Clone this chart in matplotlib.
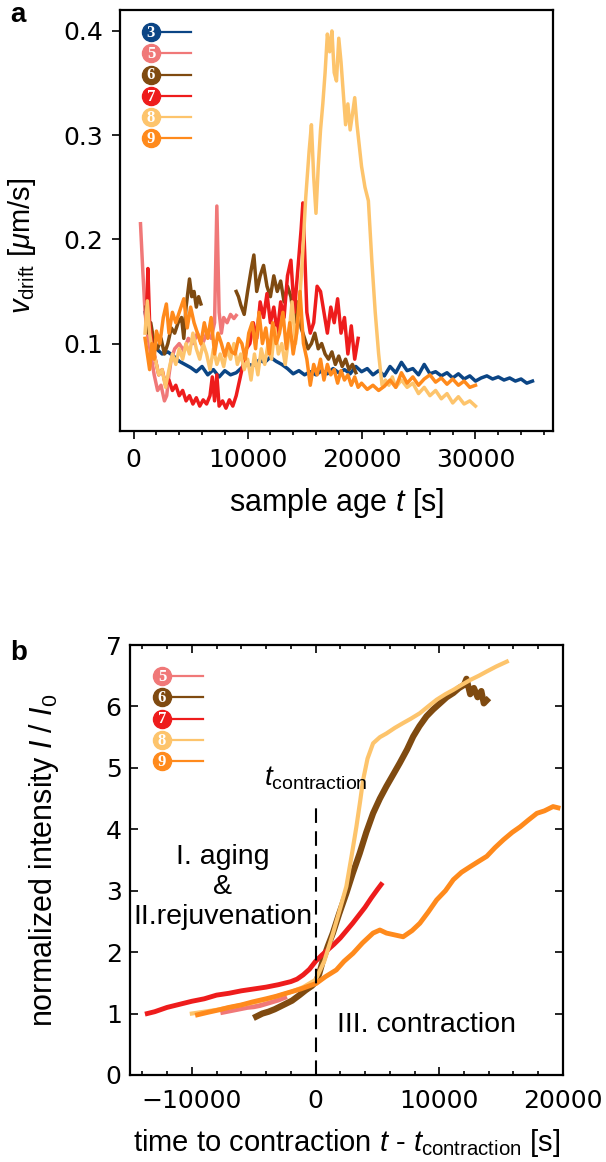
import numpy as np
import matplotlib
matplotlib.use("Agg")
import matplotlib.pyplot as plt

plt.rcParams['mathtext.fontset'] = 'custom'
plt.rcParams['mathtext.rm'] = 'Liberation Sans'
plt.rcParams['mathtext.it'] = 'Liberation Sans:italic'
plt.rcParams['mathtext.bf'] = 'Liberation Sans:bold'

# colours per sample
colors = {3: '#0b4585', 5: '#f07878', 6: '#7f4a10', 7: '#ee1c1c', 8: '#fdc46c', 9: '#ff8a1c'}

# ---- panel a: drift velocity vs sample age ----
a3_t = list(range(1000, 35001, 500))
a3_v = [0.13, 0.105, 0.095, 0.09, 0.092, 0.088, 0.083, 0.08, 0.077, 0.073, 0.078, 0.07, 0.075, 0.068,
        0.074, 0.07, 0.072, 0.077, 0.08, 0.079, 0.084, 0.082, 0.087, 0.083, 0.08, 0.076, 0.071, 0.074,
        0.07, 0.073, 0.07, 0.074, 0.071, 0.076, 0.072, 0.075, 0.071, 0.078, 0.073, 0.076, 0.07, 0.074,
        0.069, 0.078, 0.072, 0.082, 0.074, 0.076, 0.07, 0.08, 0.071, 0.073, 0.069, 0.072, 0.067, 0.071,
        0.066, 0.069, 0.064, 0.067, 0.069, 0.066, 0.068, 0.065, 0.067, 0.064, 0.066, 0.062, 0.064]

a5_t = [600, 800, 1000, 1200, 1500, 1800, 2100, 2400, 2700, 2900, 3100, 3300, 3600, 4000, 4400, 4800,
        5200, 5600, 6000, 6400, 6800, 7100, 7300, 7500, 7700, 7900, 8200, 8500, 8800, 9000]
a5_v = [0.215, 0.17, 0.13, 0.11, 0.09, 0.07, 0.055, 0.06, 0.045, 0.05, 0.07, 0.085, 0.095, 0.10, 0.093,
        0.105, 0.10, 0.11, 0.098, 0.11, 0.105, 0.12, 0.232, 0.13, 0.11, 0.125, 0.12, 0.128, 0.124, 0.127]

a6_t = [1100, 1300, 1500, 1800, 2100, 2400, 2700, 3000, 3300, 3600, 3900, 4200, 4400, 4600, 4900, 5100,
        5300, 5500, 5700, 5900, 7500,
        9000, 9200, 9400, 9700, 10000, 10300, 10550, 10800, 11100, 11400, 11700, 12000, 12300, 12600,
        12900, 13200, 13500, 13800, 14100, 14400, 14700, 15000, 15300, 15600, 15900, 16200, 16500,
        16800, 17100, 17400, 17700, 18000, 18300, 18600, 18900, 19200, 19500]
a6_v = [0.135, 0.11, 0.12, 0.10, 0.095, 0.105, 0.09, 0.1, 0.115, 0.11, 0.12, 0.125, 0.105, 0.135, 0.162,
        0.145, 0.15, 0.135, 0.145, 0.138, np.nan,
        0.15, 0.145, 0.137, 0.128, 0.15, 0.17, 0.185, 0.15, 0.165, 0.175, 0.155, 0.145, 0.165, 0.15,
        0.16, 0.14, 0.155, 0.145, 0.12, 0.14, 0.115, 0.105, 0.095, 0.1, 0.11, 0.095, 0.1, 0.09, 0.085,
        0.092, 0.08, 0.088, 0.078, 0.085, 0.075, 0.08, 0.072]

a7_t = [1100, 1250, 1400, 1600, 1900, 2200, 2500, 2800, 3100, 3400, 3700, 4000, 4300, 4600, 4900, 5200,
        5500, 5800, 6100, 6400, 6700, 6900, 7100, 7300, 7500, 7800, 8100, 8400, 8700, 9000, 9300, 9600,
        9900, 10200, 10500, 10800, 11100, 11400, 11700, 12000, 12300, 12600, 12900, 13200, 13500, 13800,
        14100, 14400, 14700, 14850, 15000, 15200, 15500, 15800, 16100, 16400, 16700, 17000, 17300,
        17600, 17900, 18200, 18500, 18800, 19100, 19400, 19700]
a7_v = [0.12, 0.172, 0.12, 0.10, 0.085, 0.07, 0.075, 0.06, 0.065, 0.055, 0.06, 0.05, 0.055, 0.045, 0.05,
        0.042, 0.048, 0.04, 0.046, 0.042, 0.05, 0.068, 0.045, 0.07, 0.04, 0.045, 0.038, 0.046, 0.04, 0.05,
        0.065, 0.08, 0.095, 0.1, 0.12, 0.105, 0.14, 0.125, 0.148, 0.12, 0.135, 0.11, 0.14, 0.125, 0.165,
        0.18, 0.13, 0.17, 0.21, 0.235, 0.19, 0.13, 0.11, 0.12, 0.155, 0.15, 0.13, 0.11, 0.135, 0.12,
        0.143, 0.11, 0.125, 0.09, 0.117, 0.085, 0.105]

a8_t = [1000, 1200, 1400, 1600, 1900, 2200, 2500, 2800, 3100, 3400, 3700, 4000, 4300, 4600, 4900, 5200,
        5500, 5800, 6100, 6400, 6700, 7000, 7300, 7600, 7900, 8200, 8500, 8800, 9100, 9400, 9700, 10000,
        10300, 10600, 10900, 11200, 11500, 11800, 12100, 12400, 12700, 13000, 13300, 13600, 13900,
        14200, 14500, 14800, 15100, 15400, 15600, 15800, 16000, 16200, 16400, 16600, 16800, 17000,
        17200, 17400, 17600, 17800, 18000, 18200, 18400, 18600, 18800, 19000, 19200, 19400, 19600,
        19800, 20000, 20300, 20600, 20900, 21200, 21500, 21800, 22100, 22400, 22700, 23000, 23500,
        24000, 24500, 25000, 25500, 26000, 26500, 27000, 27500, 28000, 28500, 29000, 29500, 30000]
a8_v = [0.11, 0.141, 0.11, 0.095, 0.085, 0.07, 0.075, 0.058, 0.075, 0.09, 0.08, 0.095, 0.085, 0.1, 0.09,
        0.11, 0.095, 0.085, 0.1, 0.09, 0.075, 0.095, 0.08, 0.09, 0.078, 0.095, 0.085, 0.1, 0.08, 0.09,
        0.075, 0.085, 0.065, 0.09, 0.07, 0.095, 0.08, 0.1, 0.085, 0.115, 0.09, 0.1, 0.08, 0.105, 0.14,
        0.1, 0.13, 0.18, 0.24, 0.285, 0.31, 0.26, 0.225, 0.27, 0.305, 0.33, 0.36, 0.397, 0.38, 0.4,
        0.36, 0.352, 0.393, 0.37, 0.34, 0.31, 0.33, 0.305, 0.32, 0.336, 0.31, 0.29, 0.27, 0.25, 0.237,
        0.18, 0.13, 0.09, 0.06, 0.065, 0.06, 0.068, 0.058, 0.065, 0.058, 0.062, 0.052, 0.058, 0.05,
        0.055, 0.047, 0.052, 0.043, 0.049, 0.042, 0.045, 0.04]

a9_t = [1000, 1200, 1400, 1600, 1800, 2000, 2300, 2600, 2870, 3100, 3400, 3700, 4000, 4400, 4700, 5000,
        5300, 5600, 5900, 6200, 6500, 6800, 7100, 7400, 7700, 8000, 8300, 8600, 8900, 9200, 9500, 9800,
        10100, 10400, 10700, 11000, 11300, 11600, 11900, 12200, 12500, 12800, 13100, 13400, 13700,
        14000, 14300, 14600, 14900, 15200, 15500, 15800, 16100, 16400, 16700, 17000, 17300, 17600,
        17900, 18200, 18500, 18800, 19100, 19400, 19700, 20000, 20500, 21000, 21500, 22000, 22500,
        23000, 23500, 24000, 24500, 25000, 25500, 26000, 26500, 27000, 27500, 28000, 28500, 29000,
        29500, 30000]
a9_v = [0.105, 0.09, 0.075, 0.1, 0.085, 0.112, 0.1, 0.125, 0.138, 0.11, 0.13, 0.12, 0.13, 0.143, 0.115,
        0.135, 0.12, 0.11, 0.1, 0.12, 0.105, 0.125, 0.09, 0.11, 0.1, 0.088, 0.1, 0.092, 0.09, 0.105, 0.1,
        0.085, 0.11, 0.12, 0.095, 0.13, 0.1, 0.115, 0.09, 0.12, 0.1, 0.11, 0.13, 0.095, 0.12, 0.09, 0.11,
        0.15, 0.1, 0.085, 0.06, 0.08, 0.07, 0.085, 0.065, 0.08, 0.07, 0.075, 0.062, 0.074, 0.065, 0.07,
        0.06, 0.068, 0.058, 0.062, 0.056, 0.06, 0.055, 0.059, 0.065, 0.058, 0.072, 0.062, 0.068, 0.06,
        0.066, 0.07, 0.063, 0.067, 0.061, 0.066, 0.06, 0.064, 0.058, 0.06]

# ---- panel b: normalized intensity vs time to contraction ----
b5_t = [-7500, -7000, -6500, -6000, -5500, -5000, -4500, -4000, -3500, -3000, -2500]
b5_i = [1.02, 1.04, 1.06, 1.08, 1.1, 1.11, 1.13, 1.16, 1.19, 1.22, 1.26]

b6_t = [-4800, -4300, -3800, -3300, -2900, -2400, -1900, -1300, -800, -300, 50, 300, 600, 1000, 1400,
        1900, 2490, 3000, 3570, 4100, 4650, 5200, 5730, 6300, 6810, 7400, 7890, 8400, 8970, 9500, 10050,
        10600, 11140, 11600, 12000, 12200, 12500, 12800, 13100, 13400, 13600, 13840]
b6_i = [0.95, 1.0, 1.03, 1.07, 1.11, 1.16, 1.21, 1.3, 1.38, 1.45, 1.52, 1.65, 1.87, 2.1, 2.31, 2.62, 2.96,
        3.28, 3.61, 3.95, 4.26, 4.5, 4.7, 4.9, 5.08, 5.3, 5.51, 5.68, 5.84, 5.95, 6.05, 6.15, 6.22, 6.3,
        6.35, 6.45, 6.2, 6.3, 6.15, 6.25, 6.05, 6.1]

b7_t = [-13600, -13000, -12000, -11000, -10000, -9000, -8000, -7000, -6000, -5000, -4000, -3000, -2000,
        -1500, -1000, -500, 0, 500, 1000, 1500, 2000, 2500, 3000, 3500, 4000, 4500, 5000, 5300]
b7_i = [1.0, 1.03, 1.1, 1.15, 1.2, 1.24, 1.3, 1.33, 1.37, 1.4, 1.43, 1.47, 1.52, 1.56, 1.63, 1.72, 1.85,
        1.95, 2.04, 2.13, 2.23, 2.35, 2.47, 2.6, 2.73, 2.88, 3.02, 3.1]

b8_t = [-10000, -9000, -8000, -7000, -6000, -5000, -4000, -3000, -2000, -1000, 0, 700, 1400, 1900,
        2490, 2900, 3300, 3600, 3840, 4200, 4650, 5200, 5730, 6400, 7080, 7700, 8430, 9100, 9790, 10500,
        11140, 11800, 12490, 13200, 13840, 14600, 15460]
b8_i = [1.0, 1.03, 1.06, 1.1, 1.14, 1.18, 1.23, 1.29, 1.35, 1.43, 1.55, 1.85, 2.3, 2.65, 3.07, 3.55,
        4.04, 4.45, 4.8, 5.15, 5.4, 5.5, 5.56, 5.65, 5.73, 5.8, 5.89, 6.0, 6.11, 6.2, 6.27, 6.35, 6.43,
        6.5, 6.57, 6.65, 6.73]

b9_t = [-9540, -8700, -7800, -7000, -6000, -5080, -4000, -3200, -2380, -1200, 50, 800, 1680, 2300, 3030,
        3800, 4650, 5200, 5730, 6400, 7080, 7800, 8430, 9100, 9790, 10500, 11140, 11800, 12490, 13200,
        13840, 14500, 15190, 15900, 16540, 17200, 17890, 18500, 19200, 19600]
b9_i = [0.98, 1.02, 1.06, 1.1, 1.14, 1.19, 1.24, 1.28, 1.33, 1.4, 1.49, 1.6, 1.71, 1.85, 1.98, 2.15, 2.31,
        2.36, 2.31, 2.28, 2.25, 2.35, 2.47, 2.65, 2.85, 3.0, 3.18, 3.3, 3.39, 3.48, 3.56, 3.7, 3.83, 3.95,
        4.04, 4.15, 4.26, 4.3, 4.37, 4.35]

fig = plt.figure(figsize=(6.06, 11.62), dpi=100)

# ---------------- panel a ----------------
ax1 = fig.add_axes([0.198, 0.629, 0.7145, 0.3623])
ax1.plot(a3_t, a3_v, color=colors[3], lw=2.5)
ax1.plot(a5_t, a5_v, color=colors[5], lw=2.5)
ax1.plot(a6_t, a6_v, color=colors[6], lw=2.5)
ax1.plot(a7_t, a7_v, color=colors[7], lw=2.5)
ax1.plot(a8_t, a8_v, color=colors[8], lw=2.5)
ax1.plot(a9_t, a9_v, color=colors[9], lw=2.5)
ax1.set_xlim(-1200, 36800)
ax1.set_ylim(0.016, 0.42)
ax1.set_xticks([0, 10000, 20000, 30000])
ax1.set_xticks(np.arange(0, 36001, 2000), minor=True)
ax1.set_yticks([0.1, 0.2, 0.3, 0.4])
ax1.tick_params(direction='out', labelsize=18, length=6, width=1.2, pad=6, top=False, right=False)
ax1.tick_params(which='minor', direction='out', length=3, width=1.2)
for s in ax1.spines.values():
    s.set_linewidth(1.6)
ax1.set_xlabel('sample age $t$ [s]', fontsize=22, family='Liberation Sans', labelpad=10)
ax1.set_ylabel(r'$v_{\rm drift}$ [$\mu$m/s]', fontsize=21, family='Liberation Sans')
ax1.yaxis.set_label_coords(-0.19, 0.44)

# ---------------- panel b ----------------
ax2 = fig.add_axes([0.2145, 0.0749, 0.7145, 0.370])
ax2.plot(b5_t, b5_i, color=colors[5], lw=3.5)
ax2.plot(b6_t, b6_i, color=colors[6], lw=4.5)
ax2.plot(b7_t, b7_i, color=colors[7], lw=3.5)
ax2.plot(b8_t, b8_i, color=colors[8], lw=3.0)
ax2.plot(b9_t, b9_i, color=colors[9], lw=3.5)
ax2.axvline(0, ymax=4.37 / 7, color='k', lw=1.5, dashes=(7, 4))
ax2.set_xlim(-15000, 20000)
ax2.set_ylim(0, 7)
ax2.set_xticks([-10000, 0, 10000, 20000])
ax2.set_xticks(np.arange(-14000, 20001, 2000), minor=True)
ax2.set_yticks(range(0, 8))
ax2.tick_params(direction='in', labelsize=18, length=6, width=1.2, top=True, right=True)
ax2.tick_params(axis='x', pad=10)
ax2.tick_params(axis='y', pad=6)
ax2.tick_params(which='minor', direction='in', length=3, width=1.2, top=True)
for s in ax2.spines.values():
    s.set_linewidth(1.6)
ax2.set_xlabel(r'time to contraction $t$ - $t_{\rm contraction}$ [s]', fontsize=21,
               family='Liberation Sans', labelpad=10)
ax2.set_ylabel(r'normalized intensity $I$ / $I_0$', fontsize=22, family='Liberation Sans')
ax2.yaxis.set_label_coords(-0.16, 0.5)

ax2.text(0, 4.84, r'$t_{\rm contraction}$', fontsize=20, ha='center', va='center')
ax2.text(-7500, 3.06, 'I. aging\n&\nII.rejuvenation', fontsize=20.5, ha='center', va='center',
         family='Liberation Sans', linespacing=1.2)
ax2.text(9000, 0.81, 'III. contraction', fontsize=20.5, ha='center', va='center', family='Liberation Sans')


# circled-number legend
def numbered_legend(ax, ids, x0, x1, ytop, dy):
    for k, n in enumerate(ids):
        y = ytop - k * dy
        ax.plot([x0, x1], [y, y], color=colors[n], lw=1.6, transform=ax.transAxes, clip_on=False)
        ax.plot([x0], [y], 'o', ms=13, color=colors[n], transform=ax.transAxes, clip_on=False)
        ax.text(x0, y - 0.002, str(n), color='white', fontsize=12, fontweight='bold',
                family='Liberation Serif', ha='center', va='center', transform=ax.transAxes)


numbered_legend(ax1, [3, 5, 6, 7, 8, 9], 0.0716, 0.164, 0.948, 0.0505)
numbered_legend(ax2, [5, 6, 7, 8, 9], 0.074, 0.169, 0.928, 0.0495)

fig.text(0.017, 0.987, 'a', fontsize=20, fontweight='bold', family='Liberation Sans', va='center')
fig.text(0.017, 0.438, 'b', fontsize=20, fontweight='bold', family='Liberation Sans', va='center')

fig.savefig('out.png', dpi=100)
